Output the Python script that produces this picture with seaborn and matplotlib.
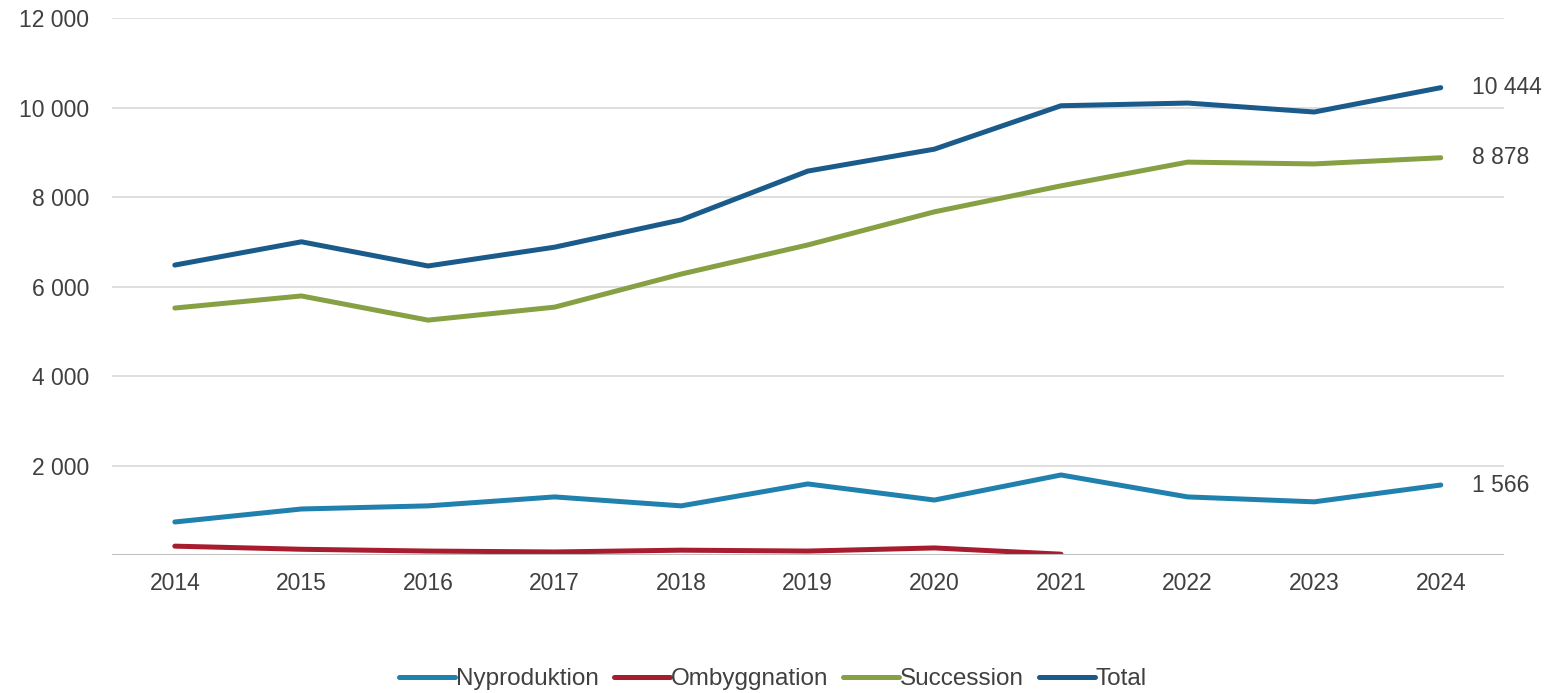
import matplotlib
matplotlib.use("Agg")
import matplotlib.pyplot as plt
import pandas as pd
import seaborn as sns

sns.set_theme(style="white")
plt.rcParams['font.family'] = ['Liberation Sans', 'DejaVu Sans']

years = [2014, 2015, 2016, 2017, 2018, 2019, 2020, 2021, 2022, 2023, 2024]
nyproduktion = [740, 1030, 1100, 1300, 1100, 1590, 1230, 1790, 1300, 1190, 1566]
ombyggnation = [200, 130, 90, 70, 110, 90, 160, 20, None, None, None]
succession = [5520, 5790, 5250, 5540, 6280, 6930, 7670, 8250, 8780, 8740, 8878]
total = [6480, 7000, 6460, 6880, 7490, 8580, 9070, 10040, 10100, 9900, 10444]

series = ["Nyproduktion", "Ombyggnation", "Succession", "Total"]
colors = ["#2181ae", "#a81c2f", "#86a043", "#1a5b8c"]

df = pd.DataFrame({"År": years, "Nyproduktion": nyproduktion,
                   "Ombyggnation": ombyggnation, "Succession": succession,
                   "Total": total})
long = df.melt(id_vars="År", var_name="Serie", value_name="Antal").dropna()
long["pos"] = long["År"] - years[0]

fig = plt.figure(figsize=(15.49, 6.93), dpi=100)
ax = fig.add_axes([0.072, 0.199, 0.899, 0.775])

sns.lineplot(data=long, x="pos", y="Antal", hue="Serie", hue_order=series,
             palette=colors, linewidth=3.6, ax=ax, legend=True)

ax.set_xlim(-0.5, 10.5)
ax.set_ylim(0, 12000)
ax.set_yticks(range(2000, 12001, 2000))
ax.set_yticklabels([f"{v:,}".replace(",", " ") for v in range(2000, 12001, 2000)])
ax.set_xticks(range(len(years)))
ax.set_xticklabels([str(y) for y in years])
ax.tick_params(axis="both", labelsize=16.5, colors="#404040", length=0)
ax.tick_params(axis="x", pad=12)
ax.tick_params(axis="y", pad=16)
ax.yaxis.grid(True, color="#d9d9d9", linewidth=1.2)
ax.axhline(0, color="#bfbfbf", linewidth=1.5)
for s in ax.spines.values():
    s.set_visible(False)
ax.set_xlabel("")
ax.set_ylabel("")

# end labels
for name in ["Total", "Succession", "Nyproduktion"]:
    v = df[name].iloc[-1]
    ax.text(10.25, v, f"{v:,}".replace(",", " "), fontsize=16.5, color="#404040",
            va="center", ha="left", clip_on=False)

handles, labels = ax.get_legend_handles_labels()
leg = ax.legend(handles, labels, loc="lower center", bbox_to_anchor=(0.475, -0.27),
                ncol=4, frameon=False, fontsize=17.5, handlelength=2.3,
                handletextpad=0.05, columnspacing=0.6, borderaxespad=0)
for t in leg.get_texts():
    t.set_color("#404040")

fig.savefig("out.png", dpi=100)
